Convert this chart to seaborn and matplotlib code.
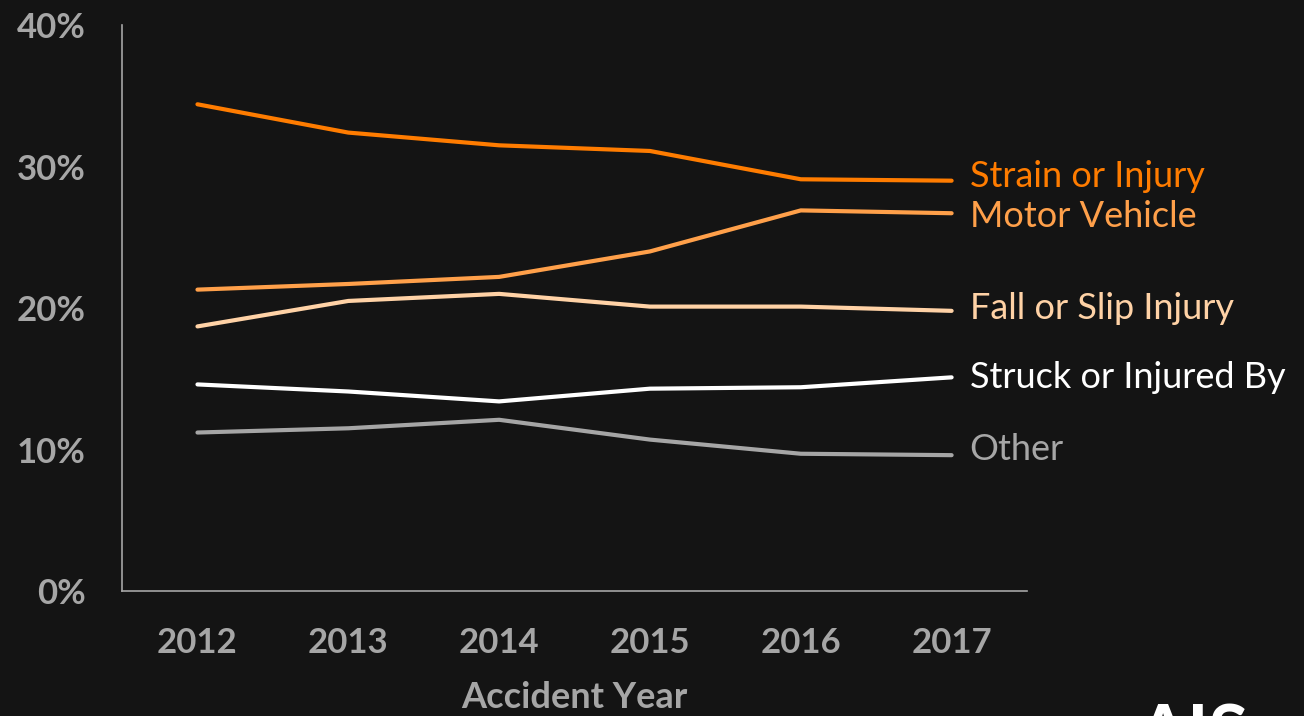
import matplotlib
matplotlib.use("Agg")
import matplotlib.pyplot as plt
import seaborn as sns
import pandas as pd

years = [2012, 2013, 2014, 2015, 2016, 2017]
strain = [34.4, 32.4, 31.5, 31.1, 29.1, 29.0]
motor = [21.3, 21.7, 22.2, 24.0, 26.9, 26.7]
fall = [18.7, 20.5, 21.0, 20.1, 20.1, 19.8]
struck = [14.6, 14.1, 13.4, 14.3, 14.4, 15.1]
other = [11.2, 11.5, 12.1, 10.7, 9.7, 9.6]
series_names = ["Strain or Injury", "Motor Vehicle", "Fall or Slip Injury",
                "Struck or Injured By", "Other"]
y_ticks = [0, 10, 20, 30, 40]
y_tick_labels = ["0%", "10%", "20%", "30%", "40%"]

colors = ["#FF7C00", "#FFA04A", "#FFD2A6", "#FFFFFF", "#A6A6A6"]
label_y = [29.3, 26.5, 20.0, 15.1, 10.0]

rows = []
for name, vals in zip(series_names, [strain, motor, fall, struck, other]):
    for yr, v in zip(years, vals):
        rows.append({"year": yr, "value": v, "series": name})
df = pd.DataFrame(rows)

sns.set_theme(style="dark")
bg = "#141414"
plt.rcParams["font.family"] = ["Lato", "DejaVu Sans"]

fig = plt.figure(figsize=(13.04, 7.16), dpi=100, facecolor=bg)
ax = fig.add_axes([0.0936, 0.1746, 0.694, 0.7904])
ax.set_facecolor(bg)

sns.lineplot(data=df, x="year", y="value", hue="series", hue_order=series_names,
             palette=colors, linewidth=3, ax=ax, legend=False)

ax.set_xlim(2011.5, 2017.5)
ax.set_ylim(0, 40)
ax.set_yticks(y_ticks)
ax.set_yticklabels(y_tick_labels)
ax.set_xticks(years)
ax.set_xticklabels([str(y) for y in years])
ax.tick_params(axis="both", colors="#A6A6A6", labelsize=25, length=0)
for lbl in ax.get_xticklabels() + ax.get_yticklabels():
    lbl.set_fontweight("bold")
ax.tick_params(axis="y", pad=26)
ax.tick_params(axis="x", pad=26)
ax.grid(False)
for s in ["top", "right"]:
    ax.spines[s].set_visible(False)
for s in ["left", "bottom"]:
    ax.spines[s].set_visible(True)
    ax.spines[s].set_color("#A6A6A6")
    ax.spines[s].set_linewidth(1.2)

ax.set_xlabel("Accident Year", color="#A6A6A6", fontsize=26, fontweight="bold", labelpad=16)
ax.set_ylabel("")

for name, c, ly in zip(series_names, colors, label_y):
    ax.text(2017.12, ly, name, color=c, fontsize=26, va="center", ha="left",
            clip_on=False)

fig.text(0.872, 1 - 703 / 716, "AIS", color="white", fontsize=52, fontweight="bold",
         va="top", ha="left")

fig.savefig("out.png", dpi=100, facecolor=bg)
